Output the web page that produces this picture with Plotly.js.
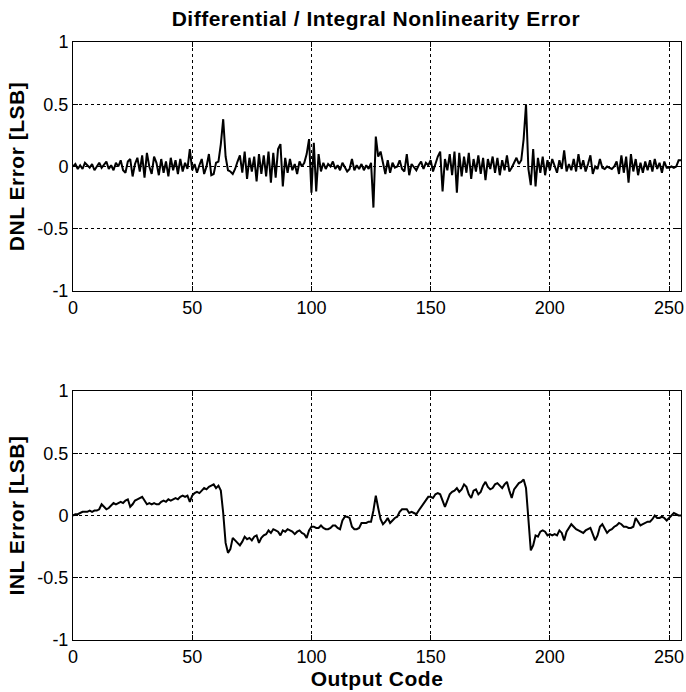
<!DOCTYPE html>
<html><head><meta charset="utf-8">
<script src="https://cdn.plot.ly/plotly-3.0.1.min.js"></script>
<style>html,body{margin:0;padding:0;background:#fff}
.gtitle,.xtitle,.x2title,.ytitle,.y2title{letter-spacing:0.5px}</style>
</head><body><div id="chart" style="width:686px;height:692px"></div>
<script>
var dnl = [
0.00,0.02,-0.02,0.01,-0.02,0.03,0.01,-0.01,0.02,-0.03,
0.00,0.03,-0.01,0.02,0.04,-0.02,0.01,-0.03,0.03,0.00,
0.05,-0.03,-0.05,0.04,0.06,-0.08,0.02,0.07,-0.04,0.09,
-0.09,0.11,0.00,-0.06,0.08,0.03,-0.07,0.06,-0.05,0.04,
-0.08,0.07,-0.03,0.05,-0.06,0.06,-0.04,0.03,-0.02,0.14,
-0.03,0.02,-0.05,0.01,0.06,-0.06,0.00,0.10,-0.07,-0.06,
0.03,0.04,0.18,0.38,0.08,-0.03,-0.04,-0.06,-0.02,0.04,
0.09,-0.05,0.12,-0.10,0.07,-0.04,0.08,-0.12,0.10,-0.06,
0.09,-0.08,0.12,-0.13,0.11,-0.09,0.14,0.18,-0.16,0.07,
-0.05,0.06,-0.03,0.02,-0.06,0.04,0.00,0.03,0.10,0.22,
-0.21,0.19,-0.20,0.10,-0.04,0.03,-0.02,0.02,0.00,0.04,
-0.02,0.01,-0.03,0.03,0.00,-0.04,-0.02,0.06,-0.03,0.01,
-0.02,0.02,-0.03,0.01,-0.02,0.03,-0.33,0.24,0.08,0.12,
0.03,-0.06,0.05,-0.05,0.03,-0.01,0.00,0.05,-0.02,-0.04,
0.10,-0.07,0.02,-0.01,-0.03,0.01,0.04,-0.02,0.03,0.01,
0.05,-0.04,0.03,0.08,0.12,-0.20,0.06,-0.03,0.10,-0.07,
0.12,-0.21,0.11,-0.08,0.08,-0.05,0.11,-0.10,0.06,-0.04,
0.09,-0.06,0.07,-0.11,0.06,-0.02,0.08,-0.05,0.07,-0.07,
0.05,-0.03,0.09,-0.04,-0.01,0.03,0.07,0.02,0.05,0.22,
0.50,-0.02,-0.15,0.14,-0.16,0.07,-0.05,0.08,-0.07,0.05,
-0.03,0.06,0.01,-0.05,0.05,-0.02,0.13,-0.04,0.02,-0.03,
0.06,-0.04,0.10,-0.02,0.05,-0.04,0.02,0.09,-0.06,0.00,
-0.02,0.06,-0.01,-0.02,0.00,-0.01,-0.02,0.00,0.04,-0.06,
0.09,-0.05,0.08,-0.13,0.10,-0.04,0.06,-0.07,0.03,-0.05,
0.04,-0.03,0.05,-0.04,0.06,-0.02,0.03,-0.05,0.04,-0.01,
-0.01,0.00,-0.01,0.00,0.05,0.05
];
var inl = [
0.00,0.01,0.01,0.02,0.03,0.03,0.03,0.04,0.03,0.04,
0.04,0.05,0.09,0.07,0.05,0.06,0.08,0.10,0.09,0.10,
0.11,0.10,0.12,0.13,0.07,0.09,0.12,0.13,0.14,0.15,
0.12,0.09,0.10,0.09,0.10,0.09,0.09,0.11,0.12,0.11,
0.13,0.12,0.13,0.14,0.13,0.15,0.16,0.15,0.16,0.11,
0.16,0.18,0.19,0.18,0.20,0.22,0.21,0.23,0.24,0.25,
0.22,0.24,0.20,0.02,-0.22,-0.30,-0.27,-0.18,-0.20,-0.22,
-0.24,-0.21,-0.17,-0.19,-0.18,-0.20,-0.17,-0.16,-0.22,-0.18,
-0.16,-0.15,-0.12,-0.14,-0.11,-0.12,-0.13,-0.16,-0.12,-0.13,
-0.11,-0.12,-0.13,-0.15,-0.13,-0.12,-0.14,-0.15,-0.18,-0.12,
-0.09,-0.09,-0.10,-0.10,-0.08,-0.10,-0.11,-0.11,-0.10,-0.08,
-0.08,-0.10,-0.11,-0.04,-0.01,-0.01,-0.02,-0.09,-0.11,-0.11,
-0.10,-0.06,-0.06,-0.06,-0.05,-0.05,0.04,0.16,0.06,-0.03,
-0.07,-0.05,-0.02,-0.06,-0.04,-0.02,-0.01,0.03,0.05,0.05,
0.05,0.02,0.03,0.02,0.01,0.04,0.07,0.10,0.12,0.15,
0.15,0.14,0.17,0.18,0.17,0.12,0.07,0.12,0.17,0.19,
0.20,0.22,0.19,0.21,0.25,0.23,0.17,0.14,0.20,0.21,
0.17,0.19,0.24,0.27,0.23,0.21,0.22,0.25,0.26,0.24,
0.22,0.25,0.27,0.20,0.14,0.21,0.24,0.26,0.27,0.29,
0.22,-0.06,-0.28,-0.24,-0.16,-0.17,-0.13,-0.12,-0.13,-0.16,
-0.15,-0.16,-0.15,-0.16,-0.12,-0.14,-0.20,-0.13,-0.10,-0.07,
-0.09,-0.11,-0.12,-0.13,-0.14,-0.12,-0.11,-0.10,-0.15,-0.20,
-0.16,-0.09,-0.07,-0.10,-0.14,-0.12,-0.11,-0.09,-0.08,-0.06,
-0.07,-0.09,-0.09,-0.10,-0.10,-0.09,-0.02,-0.05,-0.08,-0.07,
-0.06,-0.05,-0.05,-0.03,0.00,-0.02,-0.02,-0.01,-0.02,-0.04,
-0.02,0.00,0.02,0.01,0.00,0.00
];
var codes = dnl.map(function(_, i){ return i; });
var xTicks = [0, 50, 100, 150, 200, 250];
var yTicks = [-1, -0.5, 0, 0.5, 1];
var yTickText = ['-1', '-0.5', '0', '0.5', '1'];

var tickFont = {family: 'Liberation Sans Narrow, Liberation Sans, Arial, sans-serif', size: 18, color: '#000'};
var labFont = {family: 'Liberation Sans, Arial, sans-serif', size: 21, color: '#000', weight: 'bold'};

function xa(anchor, title) {
  var o = {range: [0, 255], anchor: anchor, tickvals: xTicks, ticks: 'inside', ticklen: 5,
    showline: true, mirror: 'ticks', linecolor: '#000', linewidth: 1, tickcolor: '#000',
    showgrid: true, gridcolor: '#000', griddash: 'dot', gridwidth: 1, zeroline: false,
    tickfont: tickFont, fixedrange: true};
  if (title) o.title = {text: title, font: labFont, standoff: 2};
  return o;
}
function ya(anchor, domain, title) {
  return {range: [-1, 1], anchor: anchor, domain: domain, tickvals: yTicks, ticktext: yTickText,
    ticks: 'inside', ticklen: 5, showline: true, mirror: 'ticks', linecolor: '#000', linewidth: 1,
    tickcolor: '#000', showgrid: true, gridcolor: '#000', griddash: 'dot', gridwidth: 1,
    zeroline: false, tickfont: tickFont, title: {text: title, font: labFont, standoff: 7}};
}

var data = [
  {x: codes, y: dnl, xaxis: 'x', yaxis: 'y', mode: 'lines', line: {color: '#000', width: 2}, hoverinfo: 'skip'},
  {x: codes, y: inl, xaxis: 'x2', yaxis: 'y2', mode: 'lines', line: {color: '#000', width: 2}, hoverinfo: 'skip'}
];
var layout = {
  width: 686, height: 692, showlegend: false,
  paper_bgcolor: '#fff', plot_bgcolor: '#fff',
  margin: {l: 73, r: 5, t: 42, b: 52},
  title: {text: 'Differential / Integral Nonlinearity Error', x: 0.548, xanchor: 'center', y: 0.973, yanchor: 'middle',
    font: {family: 'Liberation Sans, Arial, sans-serif', size: 21, color: '#000', weight: 'bold'}},
  xaxis: xa('y', null),
  yaxis: ya('x', [0.5836, 1], 'DNL Error [LSB]'),
  xaxis2: xa('y2', 'Output Code'),
  yaxis2: ya('x2', [0, 0.4164], 'INL Error [LSB]')
};
Plotly.newPlot('chart', data, layout, {displayModeBar: false, staticPlot: true});
</script></body></html>
